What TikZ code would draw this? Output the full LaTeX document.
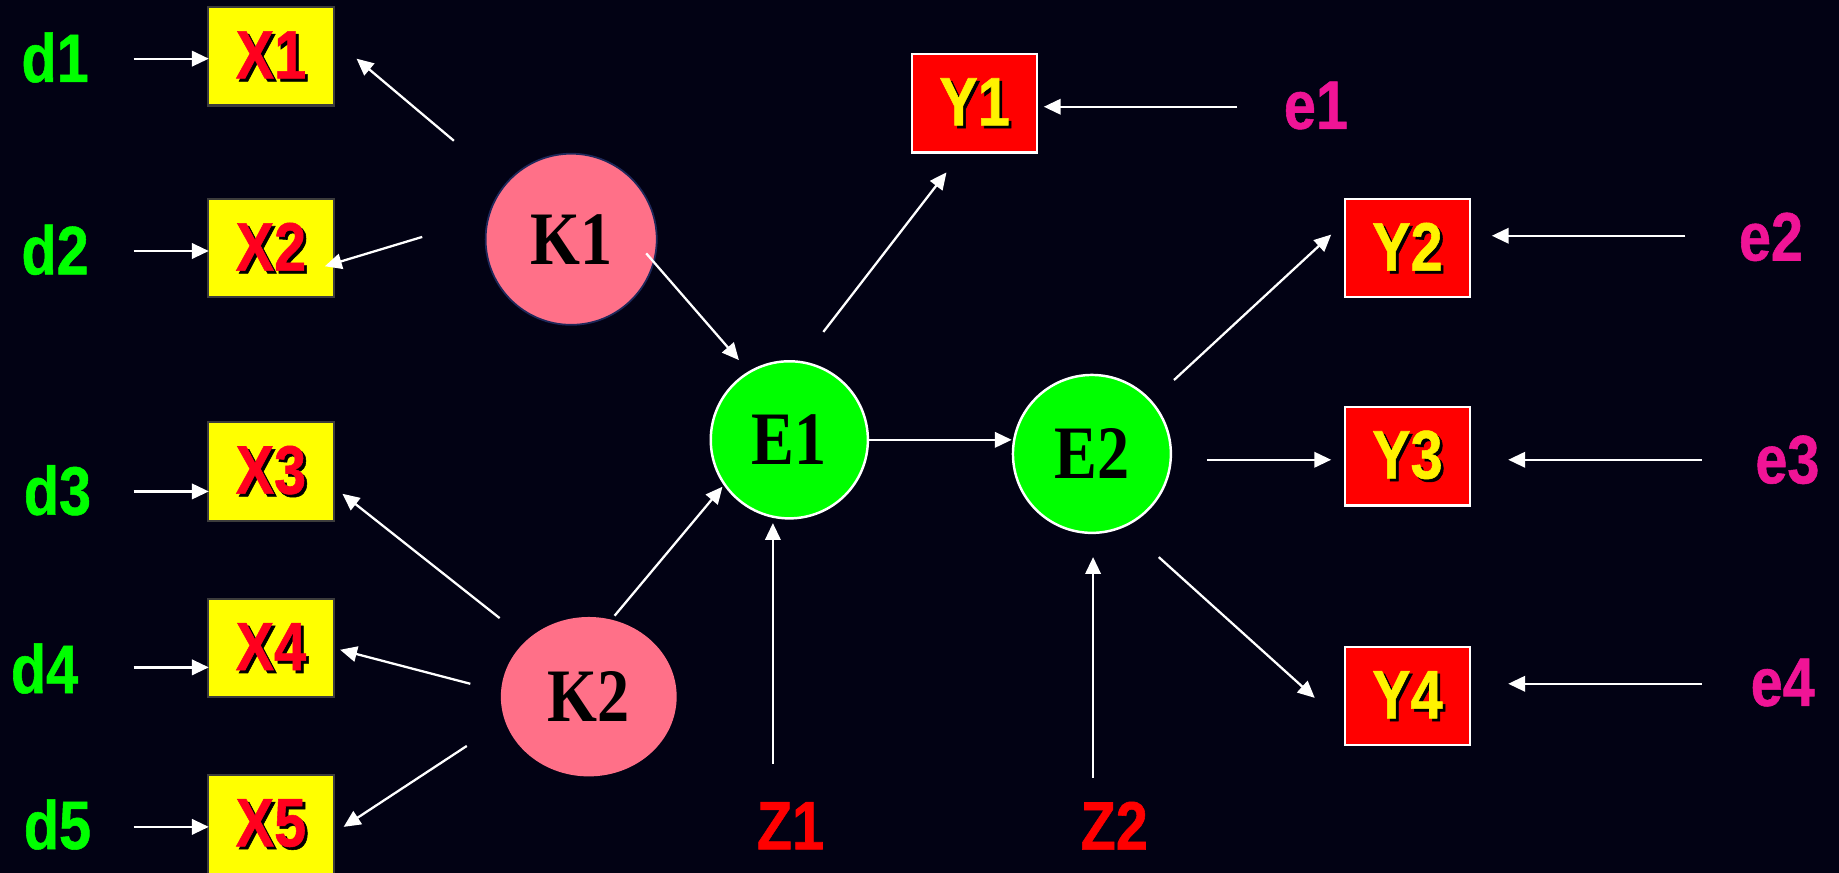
\documentclass[tikz,border=0pt]{standalone}
\usepackage{fontspec}
\usetikzlibrary{arrows.meta,shapes.geometric}
\newfontfamily\lblfont[FakeStretch=0.84,FakeBold=0.8]{Liberation Sans}
\newfontfamily\serfont[FakeStretch=0.85]{Liberation Serif}
\newcommand\sansbig{\lblfont\bfseries\fontsize{19.5}{22}\selectfont}
\newcommand\serbig{\serfont\bfseries\fontsize{21.5}{24}\selectfont}
\newcommand\shd[2]{\rlap{\kern0.8pt\raisebox{-0.8pt}{\color{black}#2}}{\color{#1}#2}}
\definecolor{bgc}{RGB}{2,2,20}
\definecolor{dgreen}{RGB}{0,255,0}
\definecolor{emag}{RGB}{240,20,150}
\definecolor{zred}{RGB}{255,0,0}
\definecolor{xred}{RGB}{255,0,30}
\definecolor{xyel}{RGB}{255,255,0}
\definecolor{xbord}{RGB}{60,60,60}
\definecolor{kpink}{RGB}{255,112,136}
\definecolor{kbord}{RGB}{30,40,90}
\begin{document}
\begin{tikzpicture}[x=0.011728cm,y=-0.011728cm,
  xbox/.style={draw=xbord,line width=0.6pt,fill=xyel,minimum width=1.255cm,minimum height=0.985cm,inner sep=0pt,font=\sansbig},
  ybox/.style={draw=white,line width=0.6pt,fill=red,minimum width=1.255cm,minimum height=0.985cm,inner sep=0pt,font=\sansbig},
  kcirc/.style={circle,fill=kpink,draw=kbord,line width=0.5pt,minimum size=1.712cm,inner sep=0pt,font=\serbig},
  ecirc/.style={circle,fill=dgreen,draw=white,line width=0.7pt,minimum size=1.572cm,inner sep=0pt,font=\serbig},
  dlab/.style={text=dgreen,font=\sansbig,inner sep=0pt},
  elab/.style={text=emag,font=\sansbig,inner sep=0pt},
  zlab/.style={text=zred,font=\sansbig,inner sep=0pt},
  arr/.style={draw=white,line width=0.65pt,-{Triangle[length=4.8pt,width=4.4pt]}}]
\fill[bgc] (0,0) rectangle (1568,744);
\useasboundingbox (0,0) rectangle (1568,744);
% X boxes
\node[xbox] (X1) at (231,48) {\shd{xred}{X1}};
\node[xbox] (X2) at (231,211.5) {\shd{xred}{X2}};
\node[xbox] (X3) at (231,402) {\shd{xred}{X3}};
\node[xbox] (X4) at (231,552.5) {\shd{xred}{X4}};
\node[xbox] (X5) at (231,703) {\shd{xred}{X5}};
% Y boxes
\node[ybox] (Y1) at (831,88) {\shd{yellow}{Y1}};
\node[ybox] (Y2) at (1200,211.5) {\shd{yellow}{Y2}};
\node[ybox] (Y3) at (1200,389) {\shd{yellow}{Y3}};
\node[ybox] (Y4) at (1200,593.5) {\shd{yellow}{Y4}};
% latent
\node[kcirc] (K1) at (487,204) {K1};
\node[kcirc,ellipse,draw=none,minimum width=1.759cm,minimum height=1.595cm] (K2) at (502,594) {K2};
\node[ecirc] (E1) at (673,375) {E1};
\node[ecirc,minimum size=1.58cm] (E2) at (931,387) {E2};
% labels
\node[dlab] (d1) at (47,49) {d1};
\node[dlab] (d2) at (47,213) {d2};
\node[dlab] (d3) at (49,418) {d3};
\node[dlab] (d4) at (38,570) {d4};
\node[dlab] (d5) at (49,703) {d5};
\node[elab] (e1) at (1122,90) {e1};
\node[elab] (e2) at (1510,202) {e2};
\node[elab] (e3) at (1524,392) {e3};
\node[elab] (e4) at (1520,582) {e4};
\node[zlab] (Z1) at (674,704) {Z1};
\node[zlab] (Z2) at (950,704) {Z2};
% connector end points
\coordinate (d1s) at (114,50);  \coordinate (d1e) at (178,50);
\coordinate (d2s) at (114,214); \coordinate (d2e) at (178,214);
\coordinate (d3s) at (114,419); \coordinate (d3e) at (178,419);
\coordinate (d4s) at (114,569); \coordinate (d4e) at (178,569);
\coordinate (d5s) at (114,705); \coordinate (d5e) at (178,705);
\coordinate (k1x1s) at (387,120); \coordinate (k1x1e) at (304,50);
\coordinate (k1x2s) at (360,202); \coordinate (k1x2e) at (277,227);
\coordinate (k2x3s) at (426,527); \coordinate (k2x3e) at (292,421);
\coordinate (k2x4s) at (401,583); \coordinate (k2x4e) at (290,554);
\coordinate (k2x5s) at (398,636); \coordinate (k2x5e) at (293,705);
\coordinate (k1e1s) at (551,216); \coordinate (k1e1e) at (630,307);
\coordinate (k2e1s) at (524,525); \coordinate (k2e1e) at (616,415);
\coordinate (e1y1s) at (702,283); \coordinate (e1y1e) at (807,147);
\coordinate (u1s) at (1055,91); \coordinate (u1e) at (890,91);
\coordinate (z1s) at (659,651); \coordinate (z1e) at (659,446);
\coordinate (z2s) at (932,663); \coordinate (z2e) at (932,475);
\coordinate (e2y2s) at (1001,324); \coordinate (e2y2e) at (1135,200);
\coordinate (e2y3s) at (1029,392); \coordinate (e2y3e) at (1135,392);
\coordinate (e2y4s) at (988,475); \coordinate (e2y4e) at (1121,595);
\coordinate (u2s) at (1437,201); \coordinate (u2e) at (1272,201);
\coordinate (u3s) at (1451,392); \coordinate (u3e) at (1286,392);
\coordinate (u4s) at (1451,583); \coordinate (u4e) at (1286,583);
% connectors
\draw[arr] (d1s) -- (d1e);
\draw[arr] (d2s) -- (d2e);
\draw[arr] (d3s) -- (d3e);
\draw[arr] (d4s) -- (d4e);
\draw[arr] (d5s) -- (d5e);
\draw[arr] (k1x1s) -- (k1x1e);
\draw[arr] (k1x2s) -- (k1x2e);
\draw[arr] (k2x3s) -- (k2x3e);
\draw[arr] (k2x4s) -- (k2x4e);
\draw[arr] (k2x5s) -- (k2x5e);
\draw[arr] (k1e1s) -- (k1e1e);
\draw[arr] (k2e1s) -- (k2e1e);
\draw[arr] (e1y1s) -- (e1y1e);
\draw[arr] (u1s) -- (u1e);
\draw[arr] (E1.east) -- (E1.east -| E2.west);
\draw[arr] (z1s) -- (z1e);
\draw[arr] (z2s) -- (z2e);
\draw[arr] (e2y2s) -- (e2y2e);
\draw[arr] (e2y3s) -- (e2y3e);
\draw[arr] (e2y4s) -- (e2y4e);
\draw[arr] (u2s) -- (u2e);
\draw[arr] (u3s) -- (u3e);
\draw[arr] (u4s) -- (u4e);
\end{tikzpicture}
\end{document}
